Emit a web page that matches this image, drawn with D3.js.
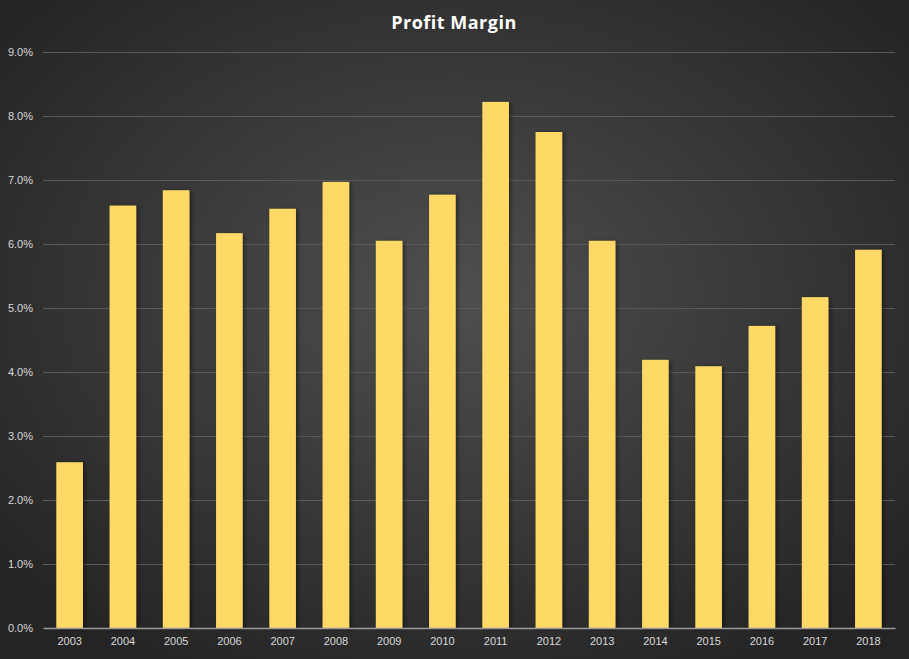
<!DOCTYPE html>
<html lang="en">
<head>
  <meta charset="UTF-8">
  <title>Profit Margin</title>
  <script src="https://d3js.org/d3.v7.min.js"></script>
  <style>
    body { margin: 0; background: #262626; }
    svg { display: block; font-family: "Open Sans", "Liberation Sans", sans-serif; }
    .tick text { fill: #d9d9d9; font-size: 11px; }
    .title { fill: #ffffff; font-size: 18px; font-weight: bold; letter-spacing: 0.5px; }
  </style>
</head>
<body>
  <svg width="909" height="659"></svg>

  <script>
    const years = ["2003", "2004", "2005", "2006", "2007", "2008", "2009", "2010",
                   "2011", "2012", "2013", "2014", "2015", "2016", "2017", "2018"];
    const margins = [2.59, 6.60, 6.84, 6.17, 6.55, 6.97, 6.05, 6.77,
                     8.22, 7.75, 6.05, 4.19, 4.09, 4.72, 5.17, 5.91];
    const yTicks = [0, 1, 2, 3, 4, 5, 6, 7, 8, 9];

    const svg = d3.select("svg"),
          margin = {top: 52, right: 14, bottom: 31, left: 43},
          width = +svg.attr("width") - margin.left - margin.right,
          height = +svg.attr("height") - margin.top - margin.bottom;

    // background with soft light in the middle
    const defs = svg.append("defs");
    const grad = defs.append("radialGradient")
      .attr("id", "bg")
      .attr("cx", "50%").attr("cy", "45%").attr("r", "65%");
    grad.append("stop").attr("offset", "0%").attr("stop-color", "#4f4f4f");
    grad.append("stop").attr("offset", "100%").attr("stop-color", "#242424");

    const shadow = defs.append("filter").attr("id", "shadow")
      .attr("x", "-30%").attr("y", "-10%").attr("width", "160%").attr("height", "120%");
    shadow.append("feDropShadow")
      .attr("dx", 2).attr("dy", 1).attr("stdDeviation", 2)
      .attr("flood-color", "#000").attr("flood-opacity", 0.45);

    svg.append("rect")
      .attr("width", svg.attr("width"))
      .attr("height", svg.attr("height"))
      .attr("fill", "url(#bg)");

    const g = svg.append("g")
      .attr("transform", `translate(${margin.left},${margin.top})`);

    const x = d3.scaleBand()
      .domain(years)
      .range([0, width])
      .paddingInner(0.5)
      .paddingOuter(0.25);

    const y = d3.scaleLinear()
      .domain([0, 9])
      .range([height, 0]);

    // gridlines
    g.selectAll(".grid")
      .data(yTicks.filter(d => d > 0))
      .enter()
      .append("line")
        .attr("x1", 0)
        .attr("x2", width)
        .attr("y1", d => y(d) + 0.5)
        .attr("y2", d => y(d) + 0.5)
        .attr("stroke", "#5a5a5a")
        .attr("stroke-width", 1);

    // Y axis labels
    const yAxis = g.append("g")
      .call(d3.axisLeft(y).tickValues(yTicks).tickFormat(d => d.toFixed(1) + "%").tickSize(0).tickPadding(10));
    yAxis.select(".domain").remove();

    // Bars
    g.selectAll(".bar")
      .data(years)
      .enter()
      .append("rect")
        .attr("class", "bar")
        .attr("x", (d, i) => x(d))
        .attr("y", (d, i) => y(margins[i]))
        .attr("width", x.bandwidth())
        .attr("height", (d, i) => height - y(margins[i]))
        .attr("fill", "#ffd966")
        .attr("filter", "url(#shadow)");

    // X axis
    const xAxis = g.append("g")
      .attr("transform", `translate(0,${height})`)
      .call(d3.axisBottom(x).tickSize(0).tickPadding(9));
    xAxis.select(".domain")
      .attr("stroke", "#9a9a9a")
      .attr("stroke-width", 1.5);

    // Title
    svg.append("text")
      .attr("class", "title")
      .attr("x", 454)
      .attr("y", 29)
      .attr("text-anchor", "middle")
      .text("Profit  Margin");
  </script>
</body>
</html>
